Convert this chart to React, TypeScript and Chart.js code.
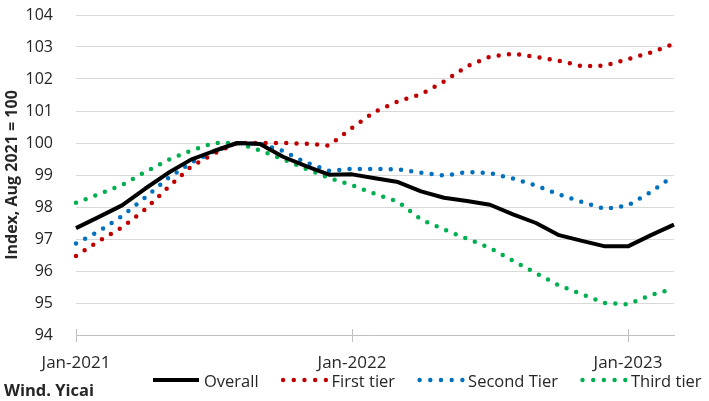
import React, { useEffect, useRef } from 'react';
import { Chart, registerables } from 'chart.js';

Chart.register(...registerables);

const months = [
  'Jan-2021', 'Feb-2021', 'Mar-2021', 'Apr-2021', 'May-2021', 'Jun-2021',
  'Jul-2021', 'Aug-2021', 'Sep-2021', 'Oct-2021', 'Nov-2021', 'Dec-2021',
  'Jan-2022', 'Feb-2022', 'Mar-2022', 'Apr-2022', 'May-2022', 'Jun-2022',
  'Jul-2022', 'Aug-2022', 'Sep-2022', 'Oct-2022', 'Nov-2022', 'Dec-2022',
  'Jan-2023', 'Feb-2023', 'Mar-2023',
];

const overall = [
  97.34, 97.69, 98.05, 98.57, 99.06, 99.48, 99.75, 100.0, 99.97, 99.57, 99.28, 99.01,
  99.02, 98.9, 98.78, 98.49, 98.29, 98.19, 98.07, 97.77, 97.5, 97.12, 96.94, 96.77,
  96.77, 97.12, 97.45,
];

const firstTier = [
  96.47, 96.94, 97.36, 97.92, 98.61, 99.26, 99.67, 100.0, 100.0, 100.0, 99.98, 99.92,
  100.47, 100.98, 101.3, 101.52, 101.92, 102.4, 102.7, 102.79, 102.69, 102.57, 102.4, 102.42,
  102.62, 102.83, 103.1,
];

const secondTier = [
  96.86, 97.24, 97.72, 98.29, 98.9, 99.38, 99.74, 100.0, 99.98, 99.75, 99.39, 99.13,
  99.19, 99.19, 99.18, 99.07, 98.98, 99.09, 99.06, 98.89, 98.67, 98.39, 98.16, 97.94,
  98.05, 98.47, 98.98,
];

const thirdTier = [
  98.13, 98.4, 98.69, 99.09, 99.47, 99.76, 100.0, 100.0, 99.77, 99.49, 99.19, 98.91,
  98.68, 98.41, 98.17, 97.61, 97.3, 97.01, 96.72, 96.32, 95.93, 95.55, 95.27, 95.0,
  94.96, 95.25, 95.45,
];

const seriesLabels = ['Overall', 'First tier', 'Second Tier', 'Third tier'];
const seriesColors = ['#000000', '#C00000', '#0070C0', '#00B050'];
const xTickLabels = ['Jan-2021', 'Jan-2022', 'Jan-2023'];
const yTitle = 'Index, Aug 2021 = 100';
const sourceText = 'Wind. Yicai';
const yMin = 94;
const yMax = 104;

const FONT = "'Open Sans', 'DejaVu Sans', sans-serif";
const TEXT_COLOR = '#262626';

const customLegend = {
  id: 'customLegend',
  afterDraw(chart: any) {
    const ctx = chart.ctx as CanvasRenderingContext2D;
    ctx.save();
    // source note
    ctx.font = `bold 16.5px ${FONT}`;
    ctx.fillStyle = TEXT_COLOR;
    ctx.textBaseline = 'alphabetic';
    ctx.textAlign = 'left';
    ctx.fillText(sourceText, 4, 396);

    // crossing tick marks above the x axis line
    const xScale = chart.scales.x;
    ctx.strokeStyle = '#bfbfbf';
    ctx.lineWidth = 1;
    months.forEach((m, i) => {
      if (xTickLabels.includes(m)) {
        const px = Math.round(xScale.getPixelForValue(i)) + 0.5;
        ctx.beginPath();
        ctx.moveTo(px, chart.chartArea.bottom - 6);
        ctx.lineTo(px, chart.chartArea.bottom);
        ctx.stroke();
      }
    });

    // legend
    const cy = 380;
    let x = 153;
    ctx.font = `16.5px ${FONT}`;
    chart.data.datasets.forEach((ds: any, i: number) => {
      const sampleLen = 46;
      if (i === 0) {
        ctx.strokeStyle = ds.borderColor;
        ctx.lineWidth = 4;
        ctx.lineCap = 'butt';
        ctx.beginPath();
        ctx.moveTo(x, cy);
        ctx.lineTo(x + sampleLen, cy);
        ctx.stroke();
      } else {
        ctx.fillStyle = ds.borderColor;
        for (let k = 0; k < 5; k++) {
          ctx.beginPath();
          ctx.arc(x + 2.5 + k * 10.7, cy, 2.2, 0, Math.PI * 2);
          ctx.fill();
        }
      }
      const tx = x + sampleLen + 5;
      ctx.fillStyle = TEXT_COLOR;
      ctx.fillText(ds.label, tx, cy + 6.5);
      x = tx + ctx.measureText(ds.label).width + 22;
    });
    ctx.restore();
  },
};

export default function App() {
  const canvasRef = useRef<HTMLCanvasElement | null>(null);

  useEffect(() => {
    if (!canvasRef.current) return;
    const dataSets = [overall, firstTier, secondTier, thirdTier].map((d, i) => ({
      label: seriesLabels[i],
      data: d,
      borderColor: seriesColors[i],
      backgroundColor: seriesColors[i],
      borderWidth: i === 0 ? 4 : 4.5,
      borderDash: i === 0 ? [] : [0, 10.3],
      borderCapStyle: i === 0 ? 'butt' : 'round',
      borderJoinStyle: 'round',
      pointRadius: 0,
      pointHoverRadius: 0,
      tension: 0,
      fill: false,
    }));

    const chart = new Chart(canvasRef.current, {
      type: 'line',
      data: { labels: months, datasets: dataSets as any },
      options: {
        responsive: false,
        animation: false,
        events: [],
        layout: { padding: { top: 15, right: 35, bottom: 0, left: 0 } },
        plugins: {
          legend: { display: false },
          tooltip: { enabled: false },
        },
        scales: {
          x: {
            type: 'category',
            offset: false,
            border: { display: true, color: '#bfbfbf', width: 1 },
            grid: {
              drawOnChartArea: false,
              drawTicks: true,
              tickLength: 7,
              offset: false,
              color: (c: any) => (xTickLabels.includes(months[c.index]) ? '#bfbfbf' : 'rgba(0,0,0,0)'),
            },
            ticks: {
              autoSkip: false,
              maxRotation: 0,
              minRotation: 0,
              padding: 11,
              color: TEXT_COLOR,
              font: { family: FONT, size: 17 },
              callback: (_v: any, idx: number) => (xTickLabels.includes(months[idx]) ? months[idx] : ''),
            },
            afterFit: (s: any) => {
              s.height = 66;
            },
          },
          y: {
            min: yMin,
            max: yMax,
            border: { display: false },
            grid: {
              color: '#d9d9d9',
              lineWidth: 1,
              drawTicks: true,
              tickLength: 20,
              tickColor: 'rgba(0,0,0,0)',
            },
            ticks: {
              stepSize: 1,
              padding: 3,
              color: TEXT_COLOR,
              font: { family: FONT, size: 16 },
            },
            title: {
              display: true,
              text: yTitle,
              color: TEXT_COLOR,
              font: { family: FONT, size: 16, weight: 'bold' },
              padding: { top: 3, bottom: 0 },
            },
            afterFit: (s: any) => {
              s.width = 76;
            },
          },
        },
      },
      plugins: [customLegend],
    });
    return () => chart.destroy();
  }, []);

  return (
    <div style={{ position: 'absolute', left: 0, top: 0, width: 709, height: 401, background: '#fff' }}>
      <canvas ref={canvasRef} width={709} height={401} style={{ display: 'block' }} />
    </div>
  );
}
